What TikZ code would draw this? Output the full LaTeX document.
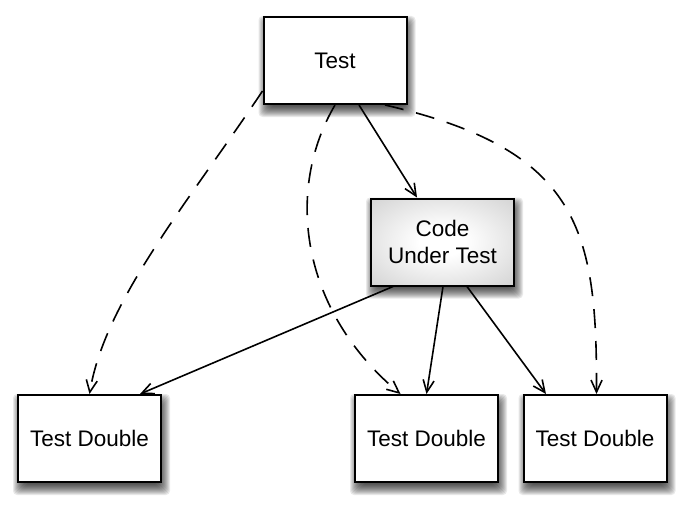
\documentclass[tikz,border=0pt]{standalone}
\usepackage{fontspec}
\setmainfont{Liberation Sans}
\usetikzlibrary{arrows.meta}
\pgfdeclarelayer{bg}
\pgfsetlayers{bg,main}
\pgfdeclareradialshading{cutshade}{\pgfpoint{0bp}{0bp}}{color(0bp)=(white); color(8bp)=(white); color(50bp)=(black!26); color(72bp)=(black!38)}
\newcommand\boxshadow[1]{%
  \foreach \e in {-5,...,6}{%
    \pgfmathsetmacro\ax{2-\e}\pgfmathsetmacro\ay{-6-\e}%
    \pgfmathsetmacro\bx{2+\e}\pgfmathsetmacro\by{-6+\e}%
    \fill[black,opacity=0.085,rounded corners=4pt]
      ([xshift=\ax pt,yshift=\ay pt]#1.south west) rectangle ([xshift=\bx pt,yshift=\by pt]#1.north east);
  }}
\begin{document}
\begin{tikzpicture}[x=1pt,y=-1pt,
  box/.style={draw=black,line width=2pt,fill=white,minimum width=143pt,minimum height=87pt,
    inner sep=0pt,font=\fontsize{22.5}{26.5}\selectfont,align=center},
  cut/.style={box,shading=cutshade},
  conn/.style={line width=1.6pt,-{Straight Barb[length=12pt,width=11pt,line width=1.6pt]}},
  dconn/.style={conn,dash pattern=on 19pt off 13pt}]
\useasboundingbox (0,0) rectangle (677,511);
\node[box] (test) at (335,60.5) {Test};
\node[cut] (cut) at (442.5,242) {Code\\Under Test};
\node[box] (td1) at (89.5,438.5) {Test Double};
\node[box] (td2) at (426.5,438.5) {Test Double};
\node[box] (td3) at (595,438.5) {Test Double};
\begin{pgfonlayer}{bg}
\boxshadow{test}\boxshadow{cut}\boxshadow{td1}\boxshadow{td2}\boxshadow{td3}
\end{pgfonlayer}
% solid
\draw[conn] ([xshift=24pt]test.south) -- ([xshift=-25.5pt]cut.north);
\draw[conn] ([xshift=-49.5pt]cut.south) -- ([xshift=50.5pt]td1.north);
\draw[conn] ([xshift=0.5pt]cut.south) -- (td2.north);
\draw[conn] ([xshift=24.5pt]cut.south) -- ([xshift=-49pt]td3.north);
% dashed
\draw[dconn] ([yshift=-30.5pt]test.west) .. controls (190,200) and (105,300) .. (td1.north);
\draw[dconn] (test.south) .. controls (285,190) and (300,310) .. ([xshift=-26pt]td2.north);
\draw[dconn] ([xshift=50pt]test.south) .. controls (580,150) and (597,230) .. ([xshift=1.5pt]td3.north);
\end{tikzpicture}
\end{document}
